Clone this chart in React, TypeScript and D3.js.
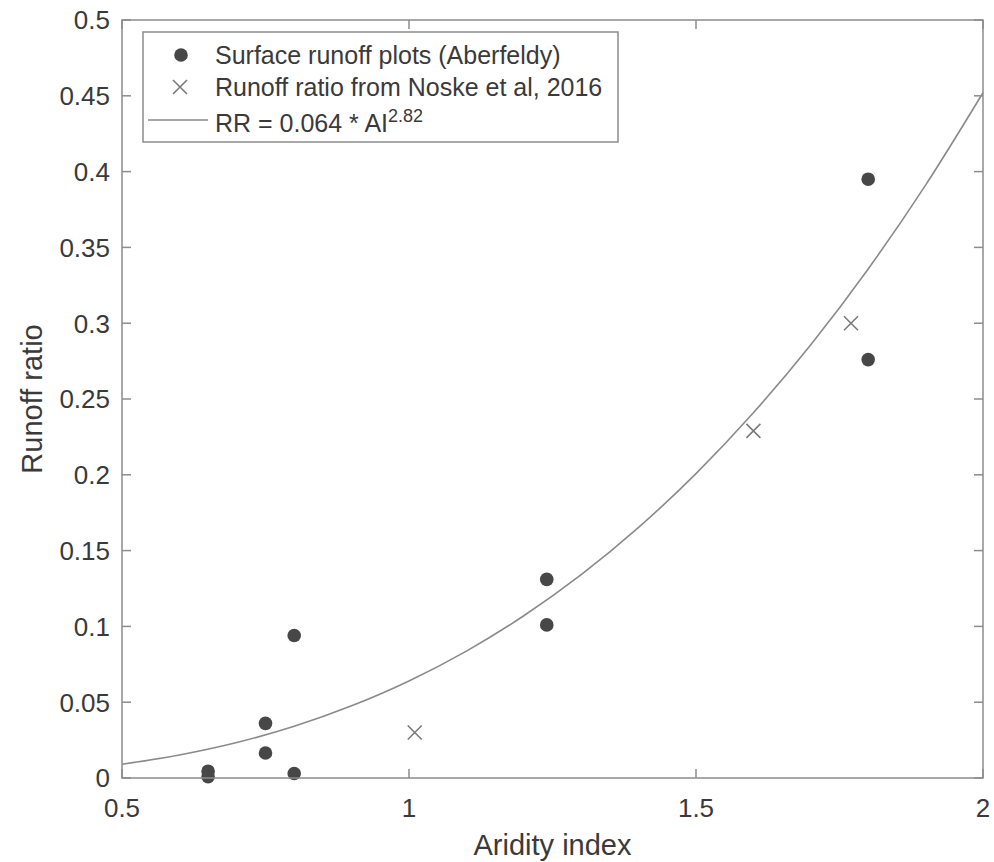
import React from "react";
import * as d3 from "d3";

const aberfeldyAI = [0.65, 0.65, 0.75, 0.75, 0.8, 0.8, 1.24, 1.24, 1.8, 1.8];
const aberfeldyRR = [0.0045, 0.0008, 0.036, 0.0165, 0.094, 0.003, 0.131, 0.101, 0.395, 0.276];
const noskeAI = [1.01, 1.6, 1.77];
const noskeRR = [0.03, 0.229, 0.3];
const fitAI = [0.5, 0.6, 0.7, 0.8, 0.9, 1.0, 1.1, 1.2, 1.3, 1.4, 1.5, 1.6, 1.7, 1.8, 1.9, 2.0];
const fitRR = [0.0091, 0.0152, 0.0234, 0.0341, 0.0476, 0.064, 0.0837, 0.107, 0.1341, 0.1653, 0.2008, 0.2409, 0.2858, 0.3358, 0.3911, 0.452];
const xTicks = [0.5, 1, 1.5, 2];
const yTicks = [0, 0.05, 0.1, 0.15, 0.2, 0.25, 0.3, 0.35, 0.4, 0.45, 0.5];
const legendLabels = ["Surface runoff plots (Aberfeldy)", "Runoff ratio from Noske et al, 2016"];

const W = 994, H = 862;
const L = 122, R = 983, T = 20, B = 778;
const axisColor = "#8c8c8c";
const textColor = "#3a3a3a";
const font = "'Liberation Sans', Arial, Helvetica, sans-serif";

export default function App() {
  const x = d3.scaleLinear().domain([0.5, 2]).range([L, R]);
  const y = d3.scaleLinear().domain([0, 0.5]).range([B, T]);
  const line = d3
    .line<number>()
    .x((_, i) => x(fitAI[i]))
    .y((d) => y(d))
    .curve(d3.curveMonotoneX);
  const tickLen = 9;
  const cross = (cx: number, cy: number, s: number, key: string) => (
    <path
      key={key}
      d={`M${cx - s},${cy - s}L${cx + s},${cy + s}M${cx - s},${cy + s}L${cx + s},${cy - s}`}
      stroke="#7a7a7a"
      strokeWidth={1.6}
      fill="none"
    />
  );
  return (
    <svg
      width={W}
      height={H}
      style={{ position: "absolute", left: 0, top: 0, background: "#fff" }}
      fontFamily={font}
    >
      <rect x={0} y={0} width={W} height={H} fill="#fff" />
      {/* fit curve */}
      <path d={line(fitRR) || ""} fill="none" stroke="#8a8a8a" strokeWidth={1.6} />
      {/* points */}
      {aberfeldyAI.map((a, i) => (
        <circle key={"c" + i} cx={x(a)} cy={y(aberfeldyRR[i])} r={6.8} fill="#474747" />
      ))}
      {noskeAI.map((a, i) => cross(x(a), y(noskeRR[i]), 7, "x" + i))}
      {/* axes box */}
      <rect x={L} y={T} width={R - L} height={B - T} fill="none" stroke={axisColor} strokeWidth={1.5} />
      {xTicks.map((t) => (
        <g key={"xt" + t}>
          <line x1={x(t)} x2={x(t)} y1={B} y2={B - tickLen} stroke={axisColor} strokeWidth={1.5} />
          <line x1={x(t)} x2={x(t)} y1={T} y2={T + tickLen} stroke={axisColor} strokeWidth={1.5} />
          <text x={x(t)} y={B + 39} textAnchor="middle" fontSize={26} fill={textColor}>
            {String(t)}
          </text>
        </g>
      ))}
      {yTicks.map((t) => (
        <g key={"yt" + t}>
          <line x1={L} x2={L + tickLen} y1={y(t)} y2={y(t)} stroke={axisColor} strokeWidth={1.5} />
          <line x1={R} x2={R - tickLen} y1={y(t)} y2={y(t)} stroke={axisColor} strokeWidth={1.5} />
          <text x={L - 12} y={y(t)} dy="0.36em" textAnchor="end" fontSize={26} fill={textColor}>
            {String(t)}
          </text>
        </g>
      ))}
      <text x={(L + R) / 2} y={855} textAnchor="middle" fontSize={29} fill={textColor}>
        Aridity index
      </text>
      <text
        transform={`translate(42,${(T + B) / 2}) rotate(-90)`}
        textAnchor="middle"
        fontSize={29}
        fill={textColor}
      >
        Runoff ratio
      </text>
      {/* legend */}
      <rect x={143} y={32} width={475} height={110} fill="#fff" stroke={axisColor} strokeWidth={1.5} />
      <circle cx={181} cy={55} r={6.8} fill="#474747" />
      {cross(180, 87, 7, "lx")}
      <line x1={148} x2={208} y1={120} y2={120} stroke="#8a8a8a" strokeWidth={1.6} />
      <text x={215} y={55} dy="0.36em" fontSize={25} fill={textColor}>
        {legendLabels[0]}
      </text>
      <text x={215} y={87} dy="0.36em" fontSize={25} fill={textColor}>
        {legendLabels[1]}
      </text>
      <text x={215} y={123} dy="0.36em" fontSize={25} fill={textColor}>
        RR = 0.064 * AI
        <tspan dy="-0.55em" fontSize={18}>
          2.82
        </tspan>
      </text>
    </svg>
  );
}
